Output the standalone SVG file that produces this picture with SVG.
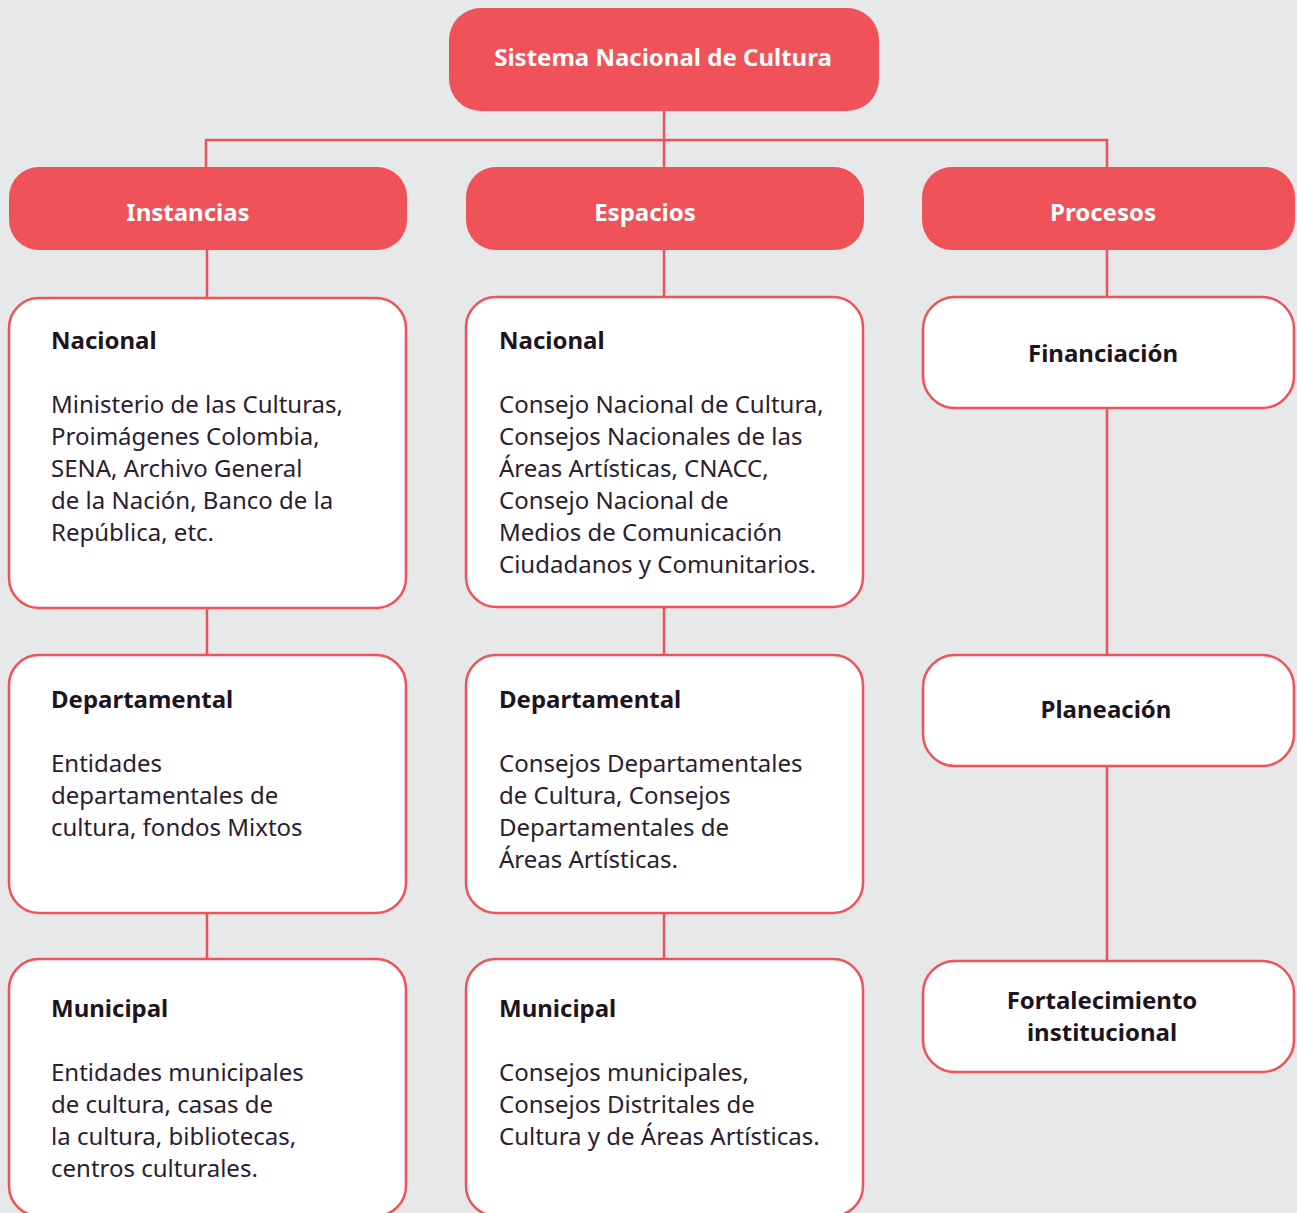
<svg xmlns="http://www.w3.org/2000/svg" width="1297" height="1213" viewBox="0 0 1297 1213">
<style>
.hdr{fill:#f05259;}
.box{fill:#ffffff;stroke:#f05259;stroke-width:2.5;}
.ht{font-family:"Noto Sans",Lato,sans-serif;font-weight:700;font-size:24px;fill:#ffffff;text-anchor:middle;}
.bt{font-family:"Noto Sans",Lato,sans-serif;font-weight:700;font-size:24px;fill:#1e1420;}
.bc{text-anchor:middle;}
.tx{font-family:"Noto Sans",Lato,sans-serif;font-weight:400;font-size:24px;fill:#2a2030;}
.ln{stroke:#f05259;stroke-width:2.5;fill:none;}
</style>
<rect width="1297" height="1213" fill="#e7e8ea"/>
<g id="connectors">
<path class="ln" d="M664 111V298M206 167V140H1107V167M207 250V298M1107 250V298M207 608V655M207 913V959M664 607V655M664 913V959M1107 408V655M1107 766V961"/>
</g>
<g id="root"><rect class="hdr" x="449" y="8" width="430" height="103" rx="32"/><text class="ht" x="663" y="66">Sistema Nacional de Cultura</text></g>
<g id="instancias"><rect class="hdr" x="9" y="167" width="398" height="83" rx="30"/><text class="ht" x="188" y="221">Instancias</text></g>
<g id="espacios"><rect class="hdr" x="466" y="167" width="398" height="83" rx="30"/><text class="ht" x="645" y="221">Espacios</text></g>
<g id="procesos"><rect class="hdr" x="922" y="167" width="373" height="83" rx="30"/><text class="ht" x="1103" y="221">Procesos</text></g>

<g id="inst-nacional"><rect class="box" x="9" y="298" width="397" height="310" rx="30"/>
<text class="bt" x="51" y="349">Nacional</text>
<text class="tx" x="51" y="413">Ministerio de las Culturas,</text>
<text class="tx" x="51" y="445">Proimágenes Colombia,</text>
<text class="tx" x="51" y="477">SENA, Archivo General</text>
<text class="tx" x="51" y="509">de la Nación, Banco de la</text>
<text class="tx" x="51" y="541">República, etc.</text></g>

<g id="inst-departamental"><rect class="box" x="9" y="655" width="397" height="258" rx="30"/>
<text class="bt" x="51" y="708">Departamental</text>
<text class="tx" x="51" y="772">Entidades</text>
<text class="tx" x="51" y="804">departamentales de</text>
<text class="tx" x="51" y="836">cultura, fondos Mixtos</text></g>

<g id="inst-municipal"><rect class="box" x="9" y="959" width="397" height="257" rx="30"/>
<text class="bt" x="51" y="1017">Municipal</text>
<text class="tx" x="51" y="1081">Entidades municipales</text>
<text class="tx" x="51" y="1113">de cultura, casas de</text>
<text class="tx" x="51" y="1145">la cultura, bibliotecas,</text>
<text class="tx" x="51" y="1177">centros culturales.</text></g>

<g id="esp-nacional"><rect class="box" x="466" y="297" width="397" height="310" rx="30"/>
<text class="bt" x="499" y="349">Nacional</text>
<text class="tx" x="499" y="413">Consejo Nacional de Cultura,</text>
<text class="tx" x="499" y="445">Consejos Nacionales de las</text>
<text class="tx" x="499" y="477">Áreas Artísticas, CNACC,</text>
<text class="tx" x="499" y="509">Consejo Nacional de</text>
<text class="tx" x="499" y="541">Medios de Comunicación</text>
<text class="tx" x="499" y="573">Ciudadanos y Comunitarios.</text></g>

<g id="esp-departamental"><rect class="box" x="466" y="655" width="397" height="258" rx="30"/>
<text class="bt" x="499" y="708">Departamental</text>
<text class="tx" x="499" y="772">Consejos Departamentales</text>
<text class="tx" x="499" y="804">de Cultura, Consejos</text>
<text class="tx" x="499" y="836">Departamentales de</text>
<text class="tx" x="499" y="868">Áreas Artísticas.</text></g>

<g id="esp-municipal"><rect class="box" x="466" y="959" width="397" height="257" rx="30"/>
<text class="bt" x="499" y="1017">Municipal</text>
<text class="tx" x="499" y="1081">Consejos municipales,</text>
<text class="tx" x="499" y="1113">Consejos Distritales de</text>
<text class="tx" x="499" y="1145">Cultura y de Áreas Artísticas.</text></g>

<g id="financiacion"><rect class="box" x="923" y="297" width="371" height="111" rx="32"/>
<text class="bt bc" x="1103" y="362">Financiación</text></g>
<g id="planeacion"><rect class="box" x="923" y="655" width="371" height="111" rx="32"/>
<text class="bt bc" x="1106" y="718">Planeación</text></g>
<g id="fortalecimiento"><rect class="box" x="923" y="961" width="371" height="111" rx="32"/>
<text class="bt bc" x="1102" y="1009">Fortalecimiento</text>
<text class="bt bc" x="1102" y="1041">institucional</text></g>
</svg>
